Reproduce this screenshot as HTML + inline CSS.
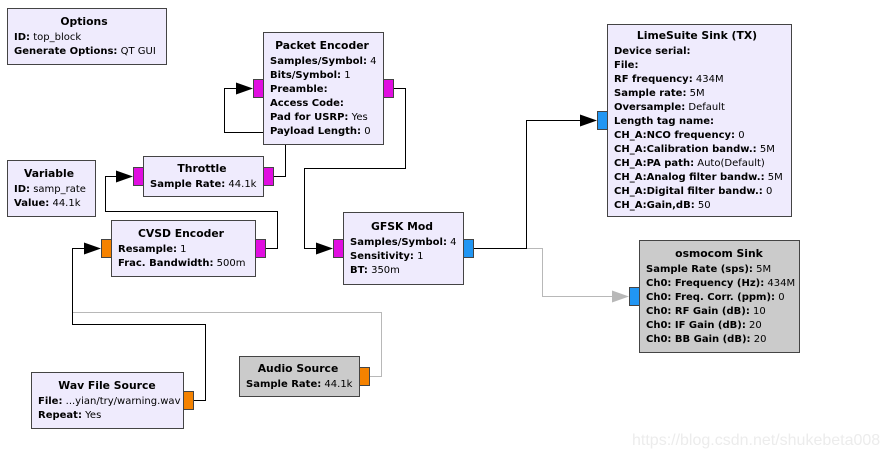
<!DOCTYPE html>
<html><head><meta charset="utf-8"><style>
html,body{margin:0;padding:0;background:#fff;}
svg{display:block;}
text{font-family:"DejaVu Sans","Liberation Sans",sans-serif;font-size:10px;fill:#000;}
.t{font-weight:bold;font-size:10.8px;text-anchor:middle;}
.b{font-weight:bold;}
.box{fill:#efebfd;stroke:#444;stroke-width:1;}
.gbox{fill:#cbcbcb;stroke:#444;stroke-width:1;}
.w{fill:none;stroke:#000;stroke-width:1;}
.g{fill:none;stroke:#b8b8b8;stroke-width:1;}
.pm{fill:#e00ee0;stroke:#444;}
.po{fill:#f58200;stroke:#444;}
.pb{fill:#2196f3;stroke:#444;}
</style></head><body>
<svg width="886" height="458" viewBox="0 0 886 458" xmlns="http://www.w3.org/2000/svg">
<!-- wires -->
<polyline class="w" points="393.5,88.5 405.5,88.5 405.5,168.5 304.5,168.5 304.5,248.5 325,248.5"/>
<polygon points="333,248.5 316,242.5 316,254.5" fill="#000"/>
<polyline class="w" points="273.5,176.5 285.5,176.5 285.5,144"/>
<polyline class="w" points="263,132.5 224.5,132.5 224.5,88.5 245,88.5"/>
<polygon points="253,88.5 236,82.5 236,94.5" fill="#000"/>
<polyline class="w" points="265.5,248.5 277.5,248.5 277.5,211.5 105.5,211.5 105.5,176.5 125,176.5"/>
<polygon points="133,176.5 116,170.5 116,182.5" fill="#000"/>
<polyline class="g" points="369.5,376.5 381.5,376.5 381.5,312.5 72.5,312.5"/>
<polyline class="w" points="193.5,400.5 205.5,400.5 205.5,324.5 72.5,324.5 72.5,248.5 93,248.5"/>
<polygon points="101,248.5 84,242.5 84,254.5" fill="#000"/>
<polyline class="g" points="473.5,248.5 542.5,248.5 542.5,296.5 621,296.5"/>
<polygon points="629,296.5 612,290.5 612,302.5" fill="#b8b8b8"/>
<polyline class="w" points="473.5,248.5 526.5,248.5 526.5,120.5 589,120.5"/>
<polygon points="597,120.5 580,114.5 580,126.5" fill="#000"/>

<!-- Options -->
<rect class="box" x="7.5" y="8.5" width="159" height="56"/>
<text class="t" x="84" y="25">Options</text>
<text x="14" y="40"><tspan class="b">ID:</tspan> top_block</text>
<text x="14" y="54"><tspan class="b">Generate Options:</tspan> QT GUI</text>

<!-- Packet Encoder -->
<rect class="box" x="263.5" y="32.5" width="120" height="112"/>
<text class="t" x="322" y="49">Packet Encoder</text>
<text x="270" y="64"><tspan class="b">Samples/Symbol:</tspan> 4</text>
<text x="270" y="78"><tspan class="b">Bits/Symbol:</tspan> 1</text>
<text x="270" y="92"><tspan class="b">Preamble:</tspan></text>
<text x="270" y="106"><tspan class="b">Access Code:</tspan></text>
<text x="270" y="120"><tspan class="b">Pad for USRP:</tspan> Yes</text>
<text x="270" y="134"><tspan class="b">Payload Length:</tspan> 0</text>
<rect class="pm" x="253.5" y="79.5" width="10" height="18"/>
<rect class="pm" x="383.5" y="79.5" width="10" height="18"/>

<!-- Throttle -->
<rect class="box" x="143.5" y="156.5" width="120" height="40"/>
<text class="t" x="202" y="172">Throttle</text>
<text x="150" y="187"><tspan class="b">Sample Rate:</tspan> 44.1k</text>
<rect class="pm" x="133.5" y="167.5" width="10" height="18"/>
<rect class="pm" x="263.5" y="167.5" width="10" height="18"/>

<!-- Variable -->
<rect class="box" x="7.5" y="160.5" width="88" height="56"/>
<text class="t" x="49" y="177">Variable</text>
<text x="14" y="192"><tspan class="b">ID:</tspan> samp_rate</text>
<text x="14" y="206"><tspan class="b">Value:</tspan> 44.1k</text>

<!-- CVSD -->
<rect class="box" x="111.5" y="220.5" width="144" height="56"/>
<text class="t" x="181" y="237">CVSD Encoder</text>
<text x="118" y="252"><tspan class="b">Resample:</tspan> 1</text>
<text x="118" y="266"><tspan class="b">Frac. Bandwidth:</tspan> 500m</text>
<rect class="po" x="101.5" y="239.5" width="10" height="18"/>
<rect class="pm" x="255.5" y="239.5" width="10" height="18"/>

<!-- GFSK -->
<rect class="box" x="343.5" y="212.5" width="120" height="72"/>
<text class="t" x="402" y="230">GFSK Mod</text>
<text x="350" y="245"><tspan class="b">Samples/Symbol:</tspan> 4</text>
<text x="350" y="259"><tspan class="b">Sensitivity:</tspan> 1</text>
<text x="350" y="273"><tspan class="b">BT:</tspan> 350m</text>
<rect class="pm" x="333.5" y="239.5" width="10" height="18"/>
<rect class="pb" x="463.5" y="239.5" width="10" height="18"/>

<!-- LimeSuite -->
<rect class="box" x="607.5" y="24.5" width="184" height="192"/>
<text class="t" x="697" y="39">LimeSuite Sink (TX)</text>
<text x="614" y="54" class="b">Device serial:</text>
<text x="614" y="68" class="b">File:</text>
<text x="614" y="82"><tspan class="b">RF frequency:</tspan> 434M</text>
<text x="614" y="96"><tspan class="b">Sample rate:</tspan> 5M</text>
<text x="614" y="110"><tspan class="b">Oversample:</tspan> Default</text>
<text x="614" y="124" class="b">Length tag name:</text>
<text x="614" y="138"><tspan class="b">CH_A:NCO frequency:</tspan> 0</text>
<text x="614" y="152"><tspan class="b">CH_A:Calibration bandw.:</tspan> 5M</text>
<text x="614" y="166"><tspan class="b">CH_A:PA path:</tspan> Auto(Default)</text>
<text x="614" y="180"><tspan class="b">CH_A:Analog filter bandw.:</tspan> 5M</text>
<text x="614" y="194"><tspan class="b">CH_A:Digital filter bandw.:</tspan> 0</text>
<text x="614" y="208"><tspan class="b">CH_A:Gain,dB:</tspan> 50</text>
<rect class="pb" x="597.5" y="111.5" width="10" height="18"/>

<!-- osmocom -->
<rect class="gbox" x="639.5" y="240.5" width="160" height="112"/>
<text class="t" x="719" y="257">osmocom Sink</text>
<text x="646" y="272"><tspan class="b">Sample Rate (sps):</tspan> 5M</text>
<text x="646" y="286"><tspan class="b">Ch0: Frequency (Hz):</tspan> 434M</text>
<text x="646" y="300"><tspan class="b">Ch0: Freq. Corr. (ppm):</tspan> 0</text>
<text x="646" y="314"><tspan class="b">Ch0: RF Gain (dB):</tspan> 10</text>
<text x="646" y="328"><tspan class="b">Ch0: IF Gain (dB):</tspan> 20</text>
<text x="646" y="342"><tspan class="b">Ch0: BB Gain (dB):</tspan> 20</text>
<rect class="pb" x="629.5" y="287.5" width="10" height="18"/>

<!-- Wav -->
<rect class="box" x="31.5" y="372.5" width="152" height="56"/>
<text class="t" x="107" y="389">Wav File Source</text>
<text x="38" y="404"><tspan class="b">File:</tspan> ...yian/try/warning.wav</text>
<text x="38" y="418"><tspan class="b">Repeat:</tspan> Yes</text>
<rect class="po" x="183.5" y="391.5" width="10" height="18"/>

<!-- Audio -->
<rect class="gbox" x="239.5" y="356.5" width="120" height="40"/>
<text class="t" x="298" y="372">Audio Source</text>
<text x="246" y="387"><tspan class="b">Sample Rate:</tspan> 44.1k</text>
<rect class="po" x="359.5" y="367.5" width="10" height="18"/>

<text x="632" y="445" style="font-family:'Liberation Sans',sans-serif;font-size:16px;fill:#ececec">https://blog.csdn.net/shukebeta008</text>
</svg>
</body></html>
